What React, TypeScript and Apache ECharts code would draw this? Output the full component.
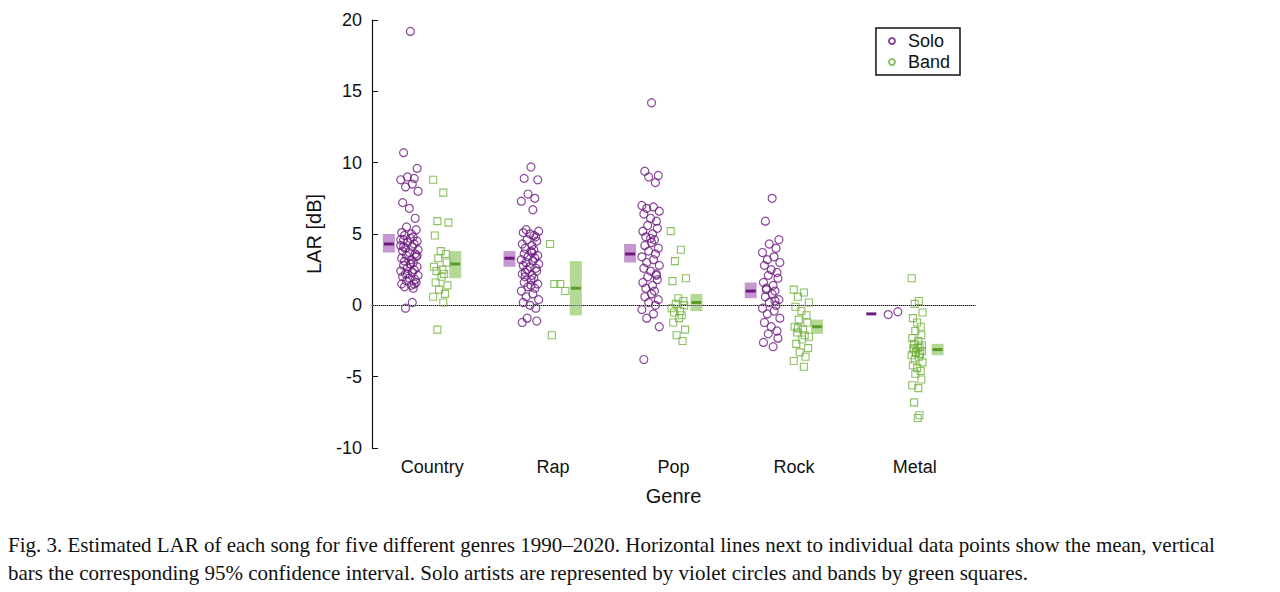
import React, { useEffect, useRef } from 'react';
import * as echarts from 'echarts';

const genres = ['Country', 'Rap', 'Pop', 'Rock', 'Metal'];

const soloCountry = [19.2, 10.7, 9.6, 9.0, 8.9, 8.8, 8.5, 8.3, 8.0, 7.2, 6.8, 6.1, 5.5, 5.3, 5.1, 5.0, 4.9, 4.8, 4.7, 4.6, 4.5, 4.4, 4.3, 4.2, 4.1, 4.0, 3.9, 3.8, 3.7, 3.6, 3.5, 3.4, 3.3, 3.2, 3.1, 3.0, 2.9, 2.8, 2.7, 2.6, 2.5, 2.4, 2.3, 2.2, 2.1, 2.0, 1.9, 1.8, 1.7, 1.6, 1.5, 1.4, 1.3, 1.2, 2.9, 4.1, 3.5, 2.2, 1.5, 4.6, 0.2, -0.2];
const soloRap = [9.7, 8.9, 8.8, 7.8, 7.5, 7.3, 6.7, 5.3, 5.2, 5.1, 5.0, 4.8, 4.6, 4.5, 4.3, 4.2, 4.0, 3.9, 3.8, 3.6, 3.5, 3.4, 3.3, 3.2, 3.1, 3.0, 2.9, 2.8, 2.7, 2.6, 2.5, 2.4, 2.2, 2.1, 2.0, 1.9, 1.8, 1.6, 1.5, 1.3, 1.2, 1.0, 0.8, 0.6, 0.4, 0.2, 0.0, -0.2, -0.9, -1.1, -1.2, 3.7, 2.3, 4.9, 1.4];
const soloPop = [14.2, 9.4, 9.1, 9.0, 8.6, 7.0, 6.9, 6.8, 6.6, 6.4, 6.1, 5.9, 5.6, 5.4, 5.2, 5.0, 4.8, 4.6, 4.4, 4.2, 4.0, 3.8, 3.6, 3.4, 3.2, 3.0, 2.8, 2.6, 2.4, 2.2, 2.0, 1.8, 1.6, 1.4, 1.2, 1.0, 0.8, 0.6, 0.4, 0.2, 0.0, -0.3, -0.6, -0.9, -1.5, -3.8, 4.7, 2.1];
const soloRock = [7.5, 5.9, 4.6, 4.3, 4.0, 3.7, 3.4, 3.2, 3.0, 2.8, 2.5, 2.3, 2.1, 1.9, 1.6, 1.4, 1.2, 1.0, 0.8, 0.6, 0.4, 0.2, 0.0, -0.2, -0.4, -0.6, -0.9, -1.2, -1.5, -1.8, -2.0, -2.3, -2.6, -2.9, 1.1, 0.3];
const soloMetal = [-0.65, -0.45];

const bandCountry = [8.8, 7.9, 5.9, 5.8, 4.9, 3.8, 3.6, 3.3, 3.0, 2.7, 2.5, 2.4, 2.2, 2.0, 1.6, 1.4, 1.1, 0.8, 0.6, 0.2, -1.7];
const bandRap = [4.3, 1.5, 1.5, 1.0, -2.1];
const bandPop = [5.2, 3.9, 3.1, 1.9, 1.7, 0.5, 0.3, 0.1, 0.0, -0.2, -0.4, -0.5, -0.7, -0.9, -1.2, -1.7, -2.1, -2.5];
const bandRock = [1.1, 0.9, 0.6, 0.2, -0.1, -0.4, -0.7, -1.0, -1.2, -1.5, -1.7, -1.9, -2.1, -2.4, -2.7, -3.0, -3.3, -3.6, -3.9, -4.3, -1.6, -2.2];
const bandMetal = [1.9, 0.3, 0.1, -0.5, -0.9, -1.2, -1.5, -1.8, -2.1, -2.3, -2.5, -2.7, -2.9, -3.0, -3.1, -3.2, -3.3, -3.4, -3.5, -3.6, -3.8, -4.0, -4.2, -4.4, -4.6, -4.8, -5.2, -5.6, -5.8, -6.8, -7.7, -7.9, -3.0, -2.8, -3.3];

// mean, ci low, ci high per genre
const soloMean = [4.3, 3.3, 3.6, 1.0, -0.6];
const soloLow = [3.7, 2.7, 3.0, 0.5, -0.6];
const soloHigh = [5.0, 3.8, 4.3, 1.6, -0.6];
const bandMean = [2.9, 1.2, 0.2, -1.5, -3.1];
const bandLow = [1.9, -0.7, -0.4, -2.0, -3.5];
const bandHigh = [3.8, 3.1, 0.8, -1.0, -2.7];

const jitter = [0.1, -0.6, 0.8, -0.2, 0.5, -0.9, 0.3, -0.4, 0.9, -0.7, 0.0, 0.6, -0.3, 0.7, -0.8, 0.2, -0.5, 0.4];

const soloAll = [soloCountry, soloRap, soloPop, soloRock, soloMetal];
const bandAll = [bandCountry, bandRap, bandPop, bandRock, bandMetal];

const PURPLE = '#6c1a80';
const GREEN = '#6fb03a';

const App: React.FC = () => {
  const chartRef = useRef<HTMLDivElement>(null);

  useEffect(() => {
    if (!chartRef.current) return;
    const chart = echarts.init(chartRef.current, undefined, { renderer: 'svg' });

    const soloPts: number[][] = [];
    soloAll.forEach((vals, g) => {
      vals.forEach((v, i) => {
        const x = g === 4 ? g + 1 - 0.22 + i * 0.08 : g + 1 - 0.19 + jitter[i % jitter.length] * 0.08;
        soloPts.push([x, v]);
      });
    });
    const bandPts: number[][] = [];
    bandAll.forEach((vals, g) => {
      const c = [0.07, 0.04, 0.04, 0.06, 0.02][g];
      const w = g === 4 ? 0.05 : 0.07;
      vals.forEach((v, i) => {
        bandPts.push([g + 1 + c + jitter[(i + 5) % jitter.length] * w, v]);
      });
    });

    const ciData = (mean: number[], lo: number[], hi: number[], off: number) =>
      mean.map((m, g) => [g + 1 + off, m, lo[g], hi[g]]);

    const ciSeries = (data: number[][], fill: string, line: string) => ({
      type: 'custom',
      xAxisIndex: 1,
      data,
      silent: true,
      renderItem: (params: any, api: any) => {
        const x = api.value(0);
        const top = api.coord([x, api.value(3)]);
        const bot = api.coord([x, api.value(2)]);
        const mid = api.coord([x, api.value(1)]);
        const w = 12;
        const children: any[] = [];
        if (bot[1] - top[1] > 1) {
          children.push({
            type: 'rect',
            shape: { x: top[0] - w / 2, y: top[1], width: w, height: bot[1] - top[1] },
            style: { fill },
          });
        }
        children.push({
          type: 'line',
          shape: { x1: mid[0] - 5, y1: mid[1], x2: mid[0] + 5, y2: mid[1] },
          style: { stroke: line, lineWidth: 3 },
        });
        return { type: 'group', children };
      },
    });

    const axisFont = { color: '#111', fontSize: 18, fontFamily: 'Liberation Sans' };

    chart.setOption({
      animation: false,
      grid: { left: 372, right: 305, top: 20, bottom: 144 },
      legend: {
        right: 320,
        top: 28,
        orient: 'vertical',
        data: ['Solo', 'Band'],
        icon: 'circle',
        borderColor: '#111',
        borderWidth: 1.5,
        padding: [4, 10, 4, 12],
        itemGap: 3,
        itemWidth: 6,
        itemHeight: 6,
        textStyle: { fontSize: 18, fontFamily: 'Liberation Sans', color: '#111', padding: [0, 0, 0, 8] },
      },
      xAxis: [
        {
          type: 'category',
          data: genres,
          name: 'Genre',
          nameLocation: 'middle',
          nameGap: 38,
          nameTextStyle: { fontSize: 20, fontFamily: 'Liberation Sans', color: '#111' },
          axisLine: { lineStyle: { color: '#111', width: 1.2 } },
          axisTick: { alignWithLabel: true, inside: true, length: 6, lineStyle: { color: '#111' } },
          axisLabel: { ...axisFont, margin: 10 },
        },
        { type: 'value', min: 0.5, max: 5.5, show: false },
      ],
      yAxis: {
        type: 'value',
        min: -10,
        max: 20,
        interval: 5,
        name: 'LAR [dB]',
        nameLocation: 'middle',
        nameGap: 48,
        nameTextStyle: { fontSize: 20, fontFamily: 'Liberation Sans', color: '#111' },
        axisLine: { show: true, lineStyle: { color: '#111', width: 1.2 } },
        axisTick: { show: true, inside: true, length: 6, lineStyle: { color: '#111' } },
        axisLabel: { ...axisFont, margin: 10 },
        splitLine: { show: false },
      },
      series: [
        {
          name: 'Solo',
          type: 'scatter',
          xAxisIndex: 1,
          data: soloPts,
          symbol: 'circle',
          symbolSize: 8,
          itemStyle: { color: 'rgba(255,255,255,0)', borderColor: PURPLE, borderWidth: 1.2 },
          markLine: {
            silent: true,
            symbol: 'none',
            label: { show: false },
            lineStyle: { color: '#999', type: 'dotted', width: 1 },
            data: [{ yAxis: 0 }],
          },
        },
        {
          name: 'Band',
          type: 'scatter',
          xAxisIndex: 1,
          data: bandPts,
          symbol: 'rect',
          symbolSize: 7,
          itemStyle: { color: 'rgba(255,255,255,0)', borderColor: GREEN, borderWidth: 1.1 },
        },
        ciSeries(ciData(soloMean, soloLow, soloHigh, -0.36), 'rgba(150,70,170,0.55)', PURPLE),
        ciSeries(ciData(bandMean, bandLow, bandHigh, 0.19), 'rgba(130,190,80,0.6)', '#5a9e2a'),
      ],
      graphic: [
        {
          type: 'text',
          left: 8,
          top: 531,
          style: {
            text: 'Fig. 3. Estimated LAR of each song for five different genres 1990–2020. Horizontal lines next to individual data points show the mean, vertical\nbars the corresponding 95% confidence interval. Solo artists are represented by violet circles and bands by green squares.',
            font: '21px "Liberation Serif"',
            lineHeight: 28,
            fill: '#111',
          },
        },
      ],
    });

    return () => chart.dispose();
  }, []);

  return <div ref={chartRef} style={{ position: 'absolute', left: 0, top: 0, width: 1280, height: 592 }} />;
};

export default App;
